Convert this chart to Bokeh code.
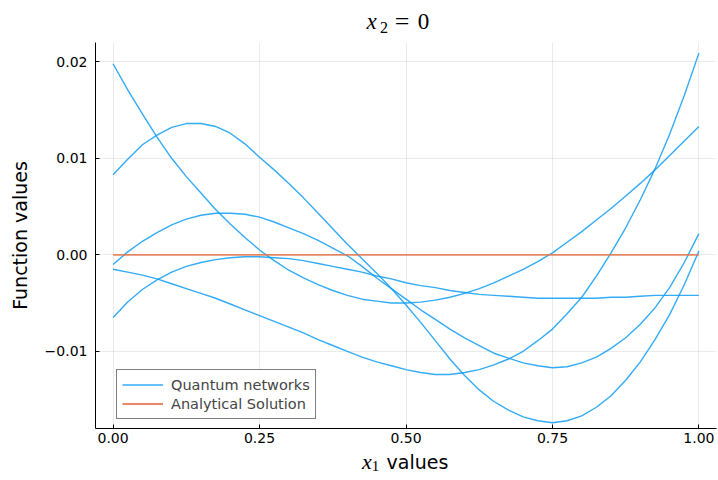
from bokeh.plotting import figure
from bokeh.models import Range1d, FixedTicker, Legend, LegendItem
from bokeh.layouts import column
from bokeh.core.properties import value
from bokeh.embed import file_html
from bokeh.resources import INLINE

# ---- data ----
x_vals = [0.000, 0.025, 0.050, 0.075, 0.100, 0.125, 0.150, 0.175, 0.200, 0.225,
          0.250, 0.275, 0.300, 0.325, 0.350, 0.375, 0.400, 0.425, 0.450, 0.475,
          0.500, 0.525, 0.550, 0.575, 0.600, 0.625, 0.650, 0.675, 0.700, 0.725,
          0.750, 0.775, 0.800, 0.825, 0.850, 0.875, 0.900, 0.925, 0.950, 0.975, 1.000]

net_1 = [0.0083, 0.0099, 0.0114, 0.0124, 0.0132, 0.0136, 0.0136, 0.0133, 0.0126, 0.0115,
         0.0101, 0.0088, 0.0074, 0.0059, 0.0043, 0.0027, 0.0011, -0.0004, -0.0019, -0.0035,
         -0.0052, -0.0070, -0.0089, -0.0108, -0.0125, -0.0140, -0.0152, -0.0161, -0.0168, -0.0172,
         -0.0174, -0.0172, -0.0167, -0.0158, -0.0146, -0.0130, -0.0111, -0.0088, -0.0062, -0.0031, 0.0004]
net_2 = [-0.0010, 0.0003, 0.0014, 0.0023, 0.0031, 0.0037, 0.0041, 0.0043, 0.0043, 0.0042,
         0.0039, 0.0034, 0.0028, 0.0022, 0.0015, 0.0007, -0.0001, -0.0012, -0.0024, -0.0035,
         -0.0046, -0.0057, -0.0067, -0.0077, -0.0086, -0.0094, -0.0102, -0.0107, -0.0112, -0.0115,
         -0.0117, -0.0116, -0.0112, -0.0106, -0.0097, -0.0086, -0.0072, -0.0055, -0.0034, -0.0008, 0.0022]
net_3 = [-0.0065, -0.0049, -0.0036, -0.0026, -0.0018, -0.0012, -0.0008, -0.0005, -0.0003, -0.0002,
         -0.0002, -0.0003, -0.0004, -0.0006, -0.0009, -0.0012, -0.0015, -0.0018, -0.0022, -0.0025,
         -0.0029, -0.0032, -0.0034, -0.0037, -0.0039, -0.0041, -0.0042, -0.0043, -0.0044, -0.0045,
         -0.0045, -0.0045, -0.0045, -0.0045, -0.0044, -0.0044, -0.0043, -0.0042, -0.0042, -0.0042, -0.0042]
net_4 = [-0.0015, -0.0018, -0.0021, -0.0025, -0.0030, -0.0035, -0.0040, -0.0045, -0.0051, -0.0057,
         -0.0063, -0.0069, -0.0075, -0.0081, -0.0088, -0.0094, -0.0100, -0.0106, -0.0111, -0.0115,
         -0.0119, -0.0122, -0.0124, -0.0124, -0.0122, -0.0119, -0.0114, -0.0108, -0.0100, -0.0089,
         -0.0077, -0.0061, -0.0044, -0.0022, 0.0002, 0.0028, 0.0057, 0.0089, 0.0125, 0.0165, 0.0209]
net_5 = [0.0198, 0.0171, 0.0146, 0.0122, 0.0100, 0.0081, 0.0064, 0.0047, 0.0032, 0.0018,
         0.0005, -0.0006, -0.0016, -0.0024, -0.0031, -0.0037, -0.0042, -0.0046, -0.0048, -0.0050,
         -0.0050, -0.0049, -0.0047, -0.0044, -0.0040, -0.0035, -0.0029, -0.0022, -0.0015, -0.0007,
         0.0002, 0.0013, 0.0024, 0.0036, 0.0048, 0.0061, 0.0074, 0.0088, 0.0103, 0.0118, 0.0133]
analytical = [0.0, 0.0, 0.0, 0.0, 0.0, 0.0, 0.0, 0.0, 0.0, 0.0,
              0.0, 0.0, 0.0, 0.0, 0.0, 0.0, 0.0, 0.0, 0.0, 0.0,
              0.0, 0.0, 0.0, 0.0, 0.0, 0.0, 0.0, 0.0, 0.0, 0.0,
              0.0, 0.0, 0.0, 0.0, 0.0, 0.0, 0.0, 0.0, 0.0, 0.0, 0.0]

x_ticks = [0.0, 0.25, 0.5, 0.75, 1.0]
x_tick_labels = ["0.00", "0.25", "0.50", "0.75", "1.00"]
y_ticks = [-0.01, 0.0, 0.01, 0.02]
y_tick_labels = ["\u22120.01", "0.00", "0.01", "0.02"]

series_label = "Quantum networks"
analytic_label = "Analytical Solution"
y_label = "Function values"

BLUE = "#0f9cf5"
ORANGE = "#e3744f"
SANS = "DejaVu Sans"
SERIF = "Liberation Serif"
W = 718
FRAME_L, FRAME_R = 95, 716   # the column aligns the strips' frames with the main frame


def text_strip(height):
    f = figure(width=W, height=height, output_backend="svg", toolbar_location=None,
               title=None, x_axis_type=None, y_axis_type=None,
               x_range=Range1d(FRAME_L, FRAME_R), y_range=Range1d(0, height),
               min_border_left=FRAME_L, min_border_right=W - FRAME_R,
               min_border_top=0, min_border_bottom=0)
    f.outline_line_color = None
    f.grid.visible = False
    return f


def piece(f, x, y, txt, size, font, style="normal", align="center"):
    f.text(x=[x], y=[y], text=[txt], text_font=value(font), text_font_size=size,
           text_font_style=style, text_align=align, text_baseline="alphabetic",
           text_color="black")


# ---- title strip: x_2 = 0 ----
top = text_strip(42)
piece(top, 371, 21, "x", "23px", SERIF, "italic")
piece(top, 383.5, 15, "2", "16px", SERIF)
piece(top, 401.5, 21, "=", "26px", SERIF)
piece(top, 423, 21, "0", "23px", SERIF)

# ---- main plot ----
p = figure(width=W, height=408, output_backend="svg", toolbar_location=None,
           title=None,
           x_range=Range1d(-0.03, 1.03), y_range=Range1d(-0.0180, 0.0220),
           min_border_left=FRAME_L, min_border_right=W - FRAME_R,
           min_border_top=0, min_border_bottom=22)
p.outline_line_color = None

renderers = []
for ys in [net_1, net_2, net_3, net_4, net_5]:
    renderers.append(p.line(x_vals, ys, line_color=BLUE, line_width=1.4, line_alpha=0.85))
r_an = p.line(x_vals, analytical, line_color=ORANGE, line_width=1.8, line_alpha=0.85)

p.xaxis.ticker = FixedTicker(ticks=x_ticks)
p.yaxis.ticker = FixedTicker(ticks=y_ticks)
p.xaxis.major_label_overrides = {t: s for t, s in zip(x_ticks, x_tick_labels)}
p.yaxis.major_label_overrides = {t: s for t, s in zip(y_ticks, y_tick_labels)}
for ax in [p.xaxis[0], p.yaxis[0]]:
    ax.axis_line_color = "black"
    ax.axis_line_width = 1
    ax.major_tick_in = 4
    ax.major_tick_out = 0
    ax.major_tick_line_color = "black"
    ax.minor_tick_line_color = None
    ax.major_label_text_font = SANS
    ax.major_label_text_font_size = "14px"
    ax.major_label_text_color = "black"
p.xaxis.major_label_standoff = 4
p.yaxis.major_label_standoff = 8
p.yaxis.axis_label = y_label
p.yaxis.axis_label_text_font = SANS
p.yaxis.axis_label_text_font_size = "19px"
p.yaxis.axis_label_text_font_style = "normal"
p.yaxis.axis_label_text_color = "black"
p.yaxis.axis_label_standoff = 11

p.xgrid.grid_line_color = "black"
p.xgrid.grid_line_alpha = 0.08
p.ygrid.grid_line_color = "black"
p.ygrid.grid_line_alpha = 0.08

legend = Legend(items=[LegendItem(label=series_label, renderers=[renderers[0]]),
                       LegendItem(label=analytic_label, renderers=[r_an])],
                location=(21, 9), padding=5, spacing=0, margin=0,
                glyph_width=41, glyph_height=19, label_height=19, label_standoff=8,
                label_text_font=SANS, label_text_font_size="14.5px",
                border_line_color="black", border_line_width=1,
                background_fill_color="white", background_fill_alpha=1.0)
p.add_layout(legend, "center")

# ---- x-axis label strip: x_1 values ----
bottom = text_strip(30)
piece(bottom, 366.5, 19, "x", "22px", SERIF, "italic")
piece(bottom, 375, 15, "1", "15px", SERIF)
piece(bottom, 386, 19, "values", "19px", SANS, align="left")

layout = column(top, p, bottom, spacing=0)
open("out.html", "w").write(file_html(layout, INLINE))
